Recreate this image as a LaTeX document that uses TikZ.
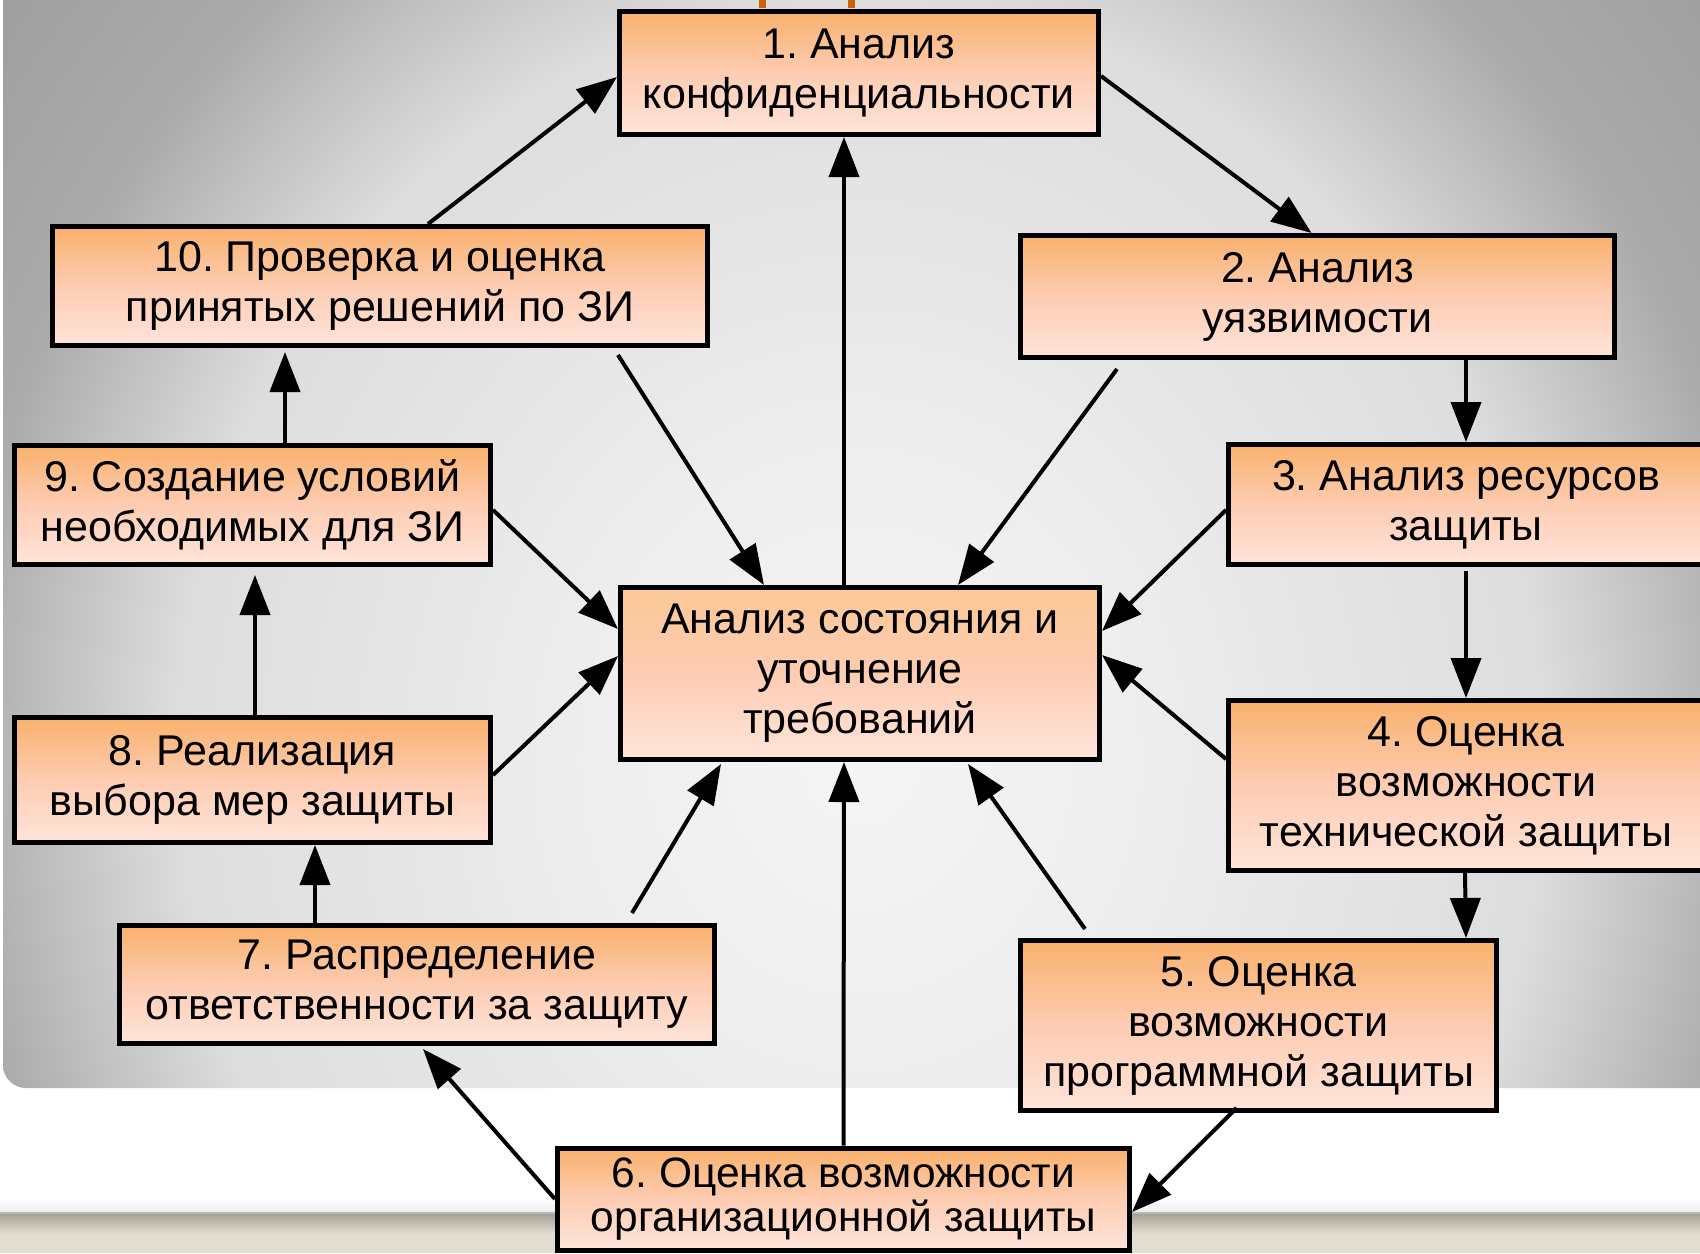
\documentclass[tikz,border=0pt]{standalone}
\usepackage{fontspec}
\setmainfont{Liberation Sans}
\usetikzlibrary{arrows.meta}
\frenchspacing
\definecolor{boxtop}{RGB}{249,177,108}
\definecolor{boxmid}{RGB}{253,204,178}
\definecolor{boxbot}{RGB}{255,228,218}
\definecolor{ctop}{RGB}{251,200,150}
\definecolor{bgA}{RGB}{245,245,245}
\definecolor{bgB}{RGB}{238,238,238}
\definecolor{bgC}{RGB}{221,221,221}
\definecolor{bgD}{RGB}{184,184,184}
\definecolor{bgE}{RGB}{171,171,171}
\definecolor{bgF}{RGB}{160,160,160}
\definecolor{bandtop}{RGB}{166,163,150}
\definecolor{bandbot}{RGB}{227,221,209}
\definecolor{titleor}{RGB}{200,100,10}
\pgfdeclareradialshading{panelshade}{\pgfpoint{0bp}{0bp}}{color(0bp)=(bgA); color(7.5bp)=(bgB); color(19bp)=(bgC); color(23.5bp)=(bgD); color(25bp)=(bgE); color(30bp)=(bgF); color(50bp)=(bgF)}
\tikzset{
  box/.style={draw=black, line width=5pt, top color=boxtop, bottom color=boxbot, middle color=boxmid,
    align=center, inner sep=0pt, font=\fontsize{43}{50}\selectfont, text=black},
  cbox/.style={box, top color=ctop, bottom color=boxbot, middle color=boxmid},
  arr/.style={line width=4pt, -{Triangle[length=40pt,width=30pt]}},
}
\begin{document}
\begin{tikzpicture}[x=1pt,y=-1pt]
\useasboundingbox (0,0) rectangle (1700,1253);
% page background
\fill[white] (0,0) rectangle (1700,1253);
% grey panel
\begin{scope}
  \clip[rounded corners=23pt] (3,-40) -- (3,1088) -- (1740,1088) -- (1740,-40) -- cycle;
  \shade[shading=panelshade] (-40,-240) rectangle (1760,1760);
\end{scope}
% bottom band
\shade[top color=white, bottom color=bgB] (0,1198) rectangle (1700,1212);
\fill[bgD] (0,1212) rectangle (1700,1214);
\shade[top color=bandtop, bottom color=bandbot] (0,1214) rectangle (1700,1234);
\fill[bandbot] (0,1234) rectangle (1700,1253);
% cut-off title
\fill[titleor] (759,0) rectangle (766,8);
\fill[titleor] (848,0) rectangle (855,8);

% boxes
\node[box, minimum width=479pt, minimum height=123pt] (b1) at (859,73) {1. Анализ\\конфиденциальности};
\node[box, minimum width=594pt, minimum height=122pt] (b2) at (1317.5,296.5) {2. Анализ\\уязвимости};
\node[box, minimum width=475pt, minimum height=120pt] (b3) at (1466,504.5) {3. Анализ ресурсов\\защиты};
\node[box, minimum width=475pt, minimum height=170pt] (b4) at (1466,785.5) {4. Оценка\\возможности\\технической защиты};
\node[box, minimum width=476pt, minimum height=170pt] (b5) at (1258.5,1025.5) {5. Оценка\\возможности\\программной защиты};
\node[box, minimum width=572pt, minimum height=102pt, font=\fontsize{42.5}{44}\selectfont] (b6) at (843.5,1199) {6. Оценка возможности\\организационной защиты};
\node[box, minimum width=595pt, minimum height=118pt] (b7) at (417,984.5) {7. Распределение\\ответственности за защиту};
\node[box, minimum width=476pt, minimum height=125pt] (b8) at (252.5,780) {8. Реализация\\выбора мер защиты};
\node[box, minimum width=476pt, minimum height=119pt] (b9) at (252.5,505) {9. Создание условий\\необходимых для ЗИ};
\node[box, minimum width=655pt, minimum height=119pt] (b10) at (380,286) {10. Проверка и оценка\\принятых решений по ЗИ};
\node[cbox, minimum width=479pt, minimum height=172pt] (c) at (860,673.5) {Анализ состояния и\\уточнение\\требований};

% cycle arrows
\draw[arr] ([xshift=48pt]b10.north) -- ([yshift=-4pt]b1.west);
\draw[arr] ([yshift=-3pt]b1.east) -- ([xshift=-6pt]b2.north);
\draw[arr] ([xshift=148.5pt]b2.south) -- (b3.north);
\draw[arr] ([yshift=-4pt]b3.south) -- (b4.north);
\draw[arr] ([xshift=-1pt]b4.south) -- ([xshift=207.5pt]b5.north);
\draw[arr] ([xshift=-22pt,yshift=5pt]b5.south) -- ([yshift=-13pt]b6.east);
\draw[arr] (b6.west) -- ([xshift=6pt,yshift=-3pt]b7.south);
\draw[arr] ([xshift=-102pt]b7.north) -- ([xshift=62.5pt]b8.south);
\draw[arr] ([xshift=2.5pt]b8.north) -- ([xshift=2.5pt,yshift=-8pt]b9.south);
\draw[arr] ([xshift=32.5pt]b9.north) -- ([xshift=-95pt,yshift=-4pt]b10.south);
% arrows to the centre
\draw[arr] ([xshift=238pt,yshift=-7pt]b10.south) -- ([xshift=-96pt]c.north);
\draw[arr] ([xshift=-200.5pt,yshift=-9pt]b2.south) -- ([xshift=98pt]c.north);
\draw[arr] ([yshift=-5pt]b9.east) -- ([yshift=44.5pt]c.west);
\draw[arr] ([yshift=-5.5pt]b3.west) -- ([yshift=42.5pt]c.east);
\draw[arr] ([yshift=5pt]b8.east) -- ([yshift=17.5pt]c.west);
\draw[arr] ([yshift=26.5pt]b4.west) -- ([yshift=18.5pt]c.east);
\draw[arr] ([xshift=215pt,yshift=10pt]b7.north) -- ([xshift=-139pt,yshift=-2pt]c.south);
\draw[arr] ([xshift=-173.5pt,yshift=9pt]b5.north) -- ([xshift=108pt,yshift=-2pt]c.south);
\draw[arr] (b6.north) -- ([xshift=-16pt]c.south);
\draw[arr] ([xshift=-16pt]c.north) -- ([xshift=-15pt]b1.south);
\end{tikzpicture}
\end{document}
